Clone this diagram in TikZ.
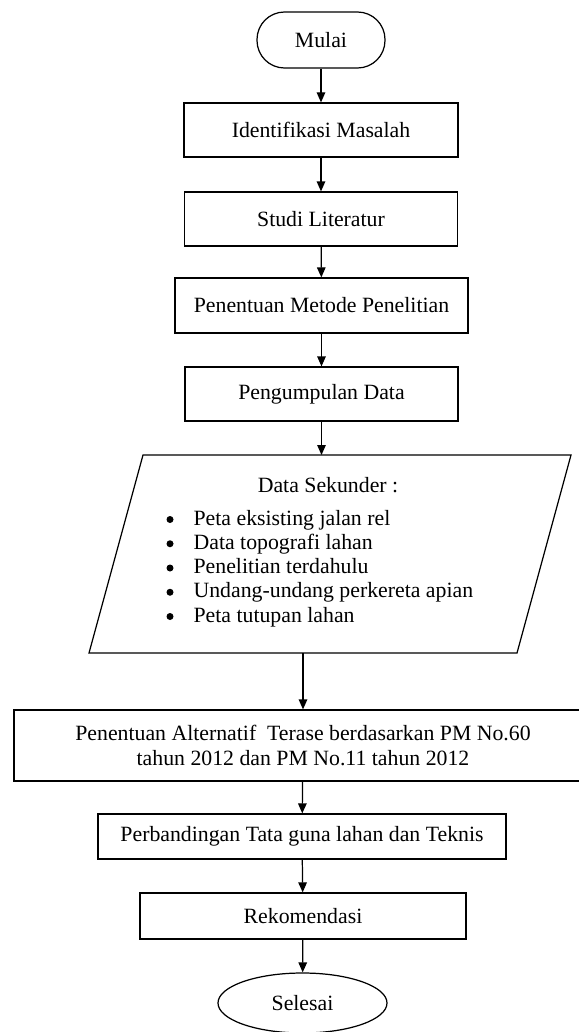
\documentclass[tikz,border=0pt]{standalone}
\usepackage{fontspec}
\setmainfont{Liberation Serif}
\usetikzlibrary{arrows.meta, shapes.geometric}

\tikzset{
    langkah/.style={draw, rectangle, align=center, inner sep=2pt},
    panah/.style={-{Triangle[length=0.2cm, width=0.17cm]}}
}

\begin{document}
\begin{tikzpicture}[line width=0.7pt, font=\fontsize{12.4}{14.5}\selectfont]
        \useasboundingbox (0,0) rectangle (11.58,-20.64);
        % Terminal Mulai
        \node[draw, rectangle, rounded corners=0.55cm, minimum width=2.56cm, minimum height=1.12cm] (mulai) at (6.42,-0.80) {Mulai};
        % Tahapan awal
        \node[langkah, minimum width=5.48cm, minimum height=1.08cm] (identifikasi) at (6.42,-2.60) {Identifikasi Masalah};
        \node[langkah, minimum width=5.46cm, minimum height=1.08cm] (studi) at (6.42,-4.38) {Studi Literatur};
        \node[langkah, minimum width=5.86cm, minimum height=1.10cm] (metode) at (6.43,-6.11) {Penentuan Metode Penelitian};
        \node[langkah, minimum width=5.46cm, minimum height=1.08cm] (pengumpulan) at (6.43,-7.88) {Pengumpulan Data};
        % Jajar genjang data sekunder
        \draw (2.86,-9.10) -- (11.42,-9.10) -- (10.34,-13.06) -- (1.78,-13.06) -- cycle;
        \coordinate (dataatas) at (6.43,-9.10);
        \coordinate (databawah) at (6.06,-13.06);
        \node (sekunder) at (6.56,-9.70) {Data Sekunder :};
        % Daftar data sekunder
        \foreach \teks [count=\i] in {Peta eksisting jalan rel, Data topografi lahan, Penelitian terdahulu, Undang-undang perkereta apian, Peta tutupan lahan} {
            \node[anchor=base west, inner sep=0pt] (butir\i) at (3.86,{-10.50-0.485*(\i-1)}) {\teks};
            \fill (butir\i.base west) ++(-0.46,0.11) circle (0.07);
        }
        % Tahapan akhir
        \node[langkah, minimum width=11.56cm, minimum height=1.42cm] (alternatif) at (6.06,-14.91) {Penentuan Alternatif~ Terase berdasarkan PM No.60\\tahun 2012 dan PM No.11 tahun 2012};
        \node[langkah, minimum width=8.16cm, minimum height=0.90cm] (perbandingan) at (6.04,-16.73) {Perbandingan Tata guna lahan dan Teknis};
        \node[langkah, minimum width=6.52cm, minimum height=0.92cm] (rekomendasi) at (6.06,-18.32) {Rekomendasi};
        % Terminal Selesai
        \node[draw, ellipse, minimum width=3.38cm, minimum height=1.20cm] (selesai) at (6.05,-20.06) {Selesai};
        % Panah
        \draw[panah] (mulai) -- (identifikasi);
        \draw[panah] (identifikasi) -- (studi);
        \draw[panah] (studi) -- (metode);
        \draw[panah] (metode) -- (pengumpulan);
        \draw[panah] (pengumpulan) -- (dataatas);
        \draw[panah] (databawah) -- (alternatif);
        \draw[panah] (alternatif) -- (perbandingan);
        \draw[panah] (perbandingan) -- (rekomendasi);
        \draw[panah] (rekomendasi) -- (selesai);
    \end{tikzpicture}
\end{document}
